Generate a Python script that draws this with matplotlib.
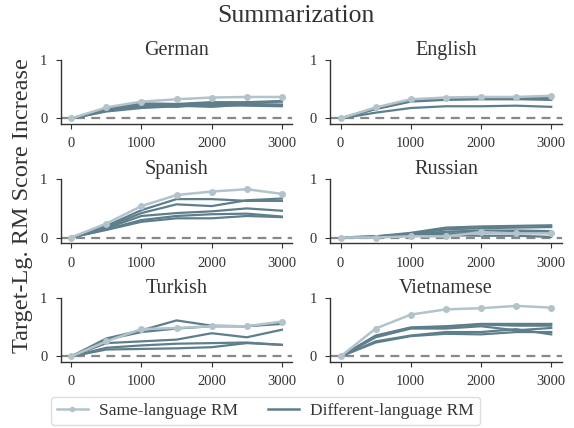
import matplotlib
matplotlib.use("Agg")
import matplotlib.pyplot as plt

plt.rcParams['font.family'] = ['Liberation Serif', 'DejaVu Serif']

# Steps (x axis)
steps = [0, 500, 1000, 1500, 2000, 2500, 3000]

languages = ['German', 'English', 'Spanish', 'Russian', 'Turkish', 'Vietnamese']

# same-language RM curves
same_german = [0, 0.19, 0.29, 0.33, 0.36, 0.37, 0.37]
same_english = [0, 0.19, 0.33, 0.36, 0.37, 0.37, 0.39]
same_spanish = [0, 0.24, 0.54, 0.73, 0.79, 0.83, 0.75]
same_russian = [0, 0.00, 0.02, 0.02, 0.09, 0.07, 0.07]
same_turkish = [0, 0.26, 0.47, 0.49, 0.52, 0.52, 0.60]
same_vietnamese = [0, 0.48, 0.72, 0.81, 0.83, 0.87, 0.84]

# different-language RM curves (5 per panel)
diff_german = [
    [0, 0.17, 0.26, 0.25, 0.28, 0.28, 0.30],
    [0, 0.15, 0.23, 0.24, 0.26, 0.27, 0.29],
    [0, 0.13, 0.20, 0.22, 0.20, 0.24, 0.22],
    [0, 0.12, 0.18, 0.21, 0.23, 0.22, 0.21],
    [0, 0.14, 0.22, 0.20, 0.25, 0.25, 0.24],
]
diff_english = [
    [0, 0.18, 0.32, 0.35, 0.36, 0.36, 0.37],
    [0, 0.17, 0.30, 0.34, 0.35, 0.35, 0.35],
    [0, 0.16, 0.29, 0.32, 0.33, 0.33, 0.33],
    [0, 0.17, 0.31, 0.33, 0.34, 0.34, 0.32],
    [0, 0.10, 0.18, 0.21, 0.21, 0.22, 0.20],
]
diff_spanish = [
    [0, 0.20, 0.47, 0.66, 0.66, 0.63, 0.63],
    [0, 0.18, 0.42, 0.57, 0.54, 0.64, 0.67],
    [0, 0.16, 0.37, 0.42, 0.45, 0.50, 0.46],
    [0, 0.14, 0.30, 0.37, 0.40, 0.41, 0.36],
    [0, 0.13, 0.27, 0.33, 0.33, 0.37, 0.35],
]
diff_russian = [
    [0, 0.02, 0.08, 0.17, 0.19, 0.20, 0.21],
    [0, 0.01, 0.06, 0.14, 0.16, 0.17, 0.18],
    [0, 0.02, 0.05, 0.10, 0.12, 0.12, 0.11],
    [0, 0.01, 0.04, 0.07, 0.08, 0.10, 0.10],
    [0, 0.00, 0.03, 0.04, 0.03, 0.03, 0.01],
]
diff_turkish = [
    [0, 0.31, 0.45, 0.62, 0.53, 0.52, 0.56],
    [0, 0.29, 0.42, 0.48, 0.52, 0.52, 0.58],
    [0, 0.23, 0.26, 0.29, 0.40, 0.33, 0.46],
    [0, 0.15, 0.19, 0.22, 0.23, 0.24, 0.20],
    [0, 0.12, 0.13, 0.14, 0.16, 0.23, 0.20],
]
diff_vietnamese = [
    [0, 0.36, 0.50, 0.52, 0.56, 0.56, 0.56],
    [0, 0.35, 0.49, 0.51, 0.55, 0.53, 0.53],
    [0, 0.33, 0.48, 0.48, 0.52, 0.45, 0.49],
    [0, 0.26, 0.36, 0.42, 0.42, 0.47, 0.38],
    [0, 0.24, 0.35, 0.39, 0.38, 0.42, 0.42],
]

same_all = [same_german, same_english, same_spanish, same_russian, same_turkish, same_vietnamese]
diff_all = [diff_german, diff_english, diff_spanish, diff_russian, diff_turkish, diff_vietnamese]

light = '#b3c3cb'
dark = '#5e7e8c'

fig = plt.figure(figsize=(5.74, 4.28), dpi=100)

# axes positions in figure fraction
lefts = [0.1057, 0.5749]
bottoms = [0.7096, 0.4315, 0.1535]
w, h = 0.4038, 0.1495

for i, lang in enumerate(languages):
    r, c = divmod(i, 2)
    ax = fig.add_axes([lefts[c], bottoms[r], w, h])
    ax.axhline(0, color='#888888', lw=1.6, dashes=(4, 2.8), zorder=1)
    for d in diff_all[i]:
        ax.plot(steps, d, color=dark, lw=1.6, zorder=2)
    ax.plot(steps, same_all[i], color=light, lw=1.8, marker='o', ms=4, zorder=3)
    ax.set_xlim(-150, 3150)
    ax.set_ylim(-0.1, 1.0)
    ax.set_xticks([0, 1000, 2000, 3000])
    ax.set_yticks([0, 1])
    ax.spines['top'].set_visible(False)
    ax.spines['right'].set_visible(False)
    for s in ['left', 'bottom']:
        ax.spines[s].set_color('#333333')
        ax.spines[s].set_linewidth(1.0)
    ax.tick_params(labelsize=10.5, length=3.5, width=0.8, colors='#333333', pad=6)
    ax.set_title(lang, fontsize=14.5, color='#333333', pad=4)

fig.text(0.515, 0.962, 'Summarization', ha='center', va='center', fontsize=18.5, color='#333333')
fig.text(0.04, 0.519, 'Target-Lg. RM Score Increase', ha='center', va='center',
         rotation=90, fontsize=17.5, color='#333333')

h_same, = plt.plot([], [], color=light, lw=1.8, marker='o', ms=3)
h_diff, = plt.plot([], [], color=dark, lw=1.8)
leg = fig.legend([h_same, h_diff], ['Same-language RM', 'Different-language RM'],
                 loc='upper center', bbox_to_anchor=(0.4626, 1 - 397 / 428),
                 ncol=2, fontsize=12.5, frameon=True, handlelength=1.8, handletextpad=0.65,
                 columnspacing=1.7, borderpad=0.35, borderaxespad=0)
leg.get_frame().set_edgecolor('#d5d5d5')
for t in leg.get_texts():
    t.set_color('#333333')

fig.savefig('out.png', dpi=100)
